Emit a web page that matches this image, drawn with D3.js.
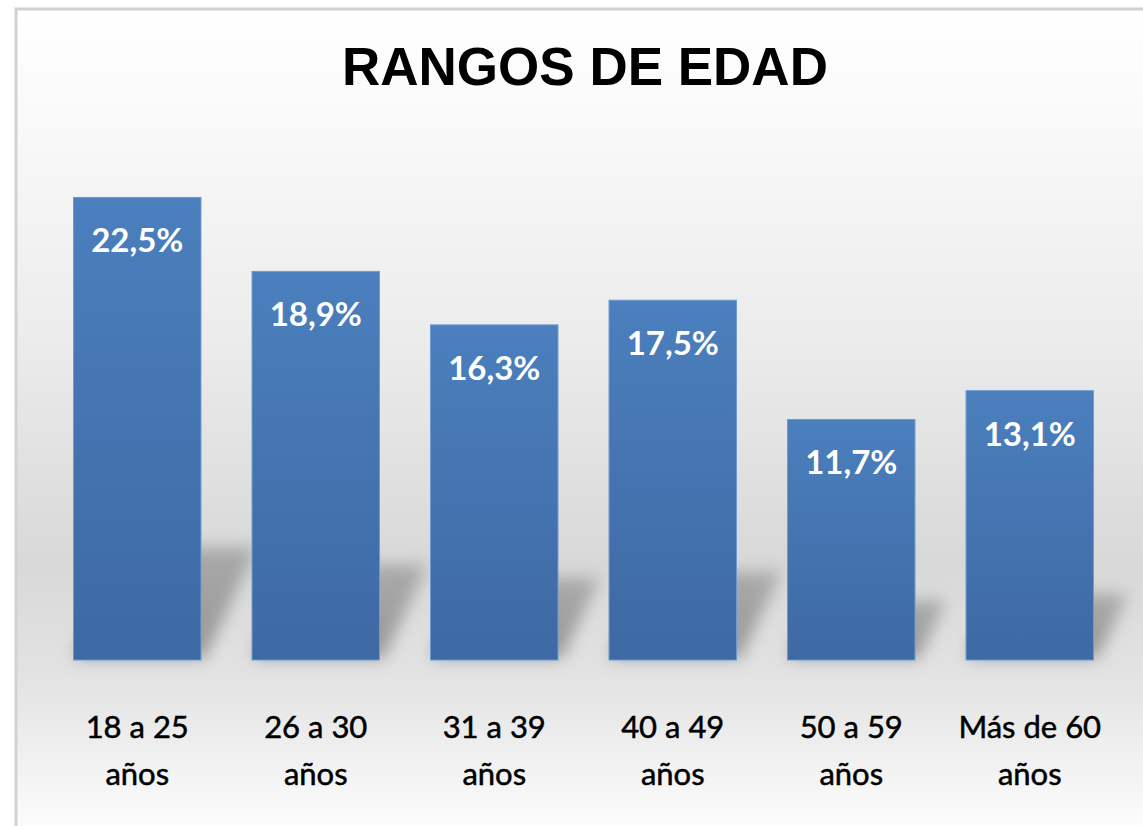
<!DOCTYPE html>
<html>
<head>
<meta charset="utf-8">
<script src="https://cdn.jsdelivr.net/npm/d3@7"></script>
<style>
  html, body { margin: 0; padding: 0; background: #fff; }
  svg { display: block; }
</style>
</head>
<body>
<svg id="chart" width="1143" height="826"></svg>
<script>
// data
const categories = ['18 a 25 años', '26 a 30 años', '31 a 39 años', '40 a 49 años', '50 a 59 años', 'Más de 60 años'];
const values = [22.5, 18.9, 16.3, 17.5, 11.7, 13.1];
const title = 'RANGOS DE EDAD';

const data = categories.map((c, i) => ({ cat: c, value: values[i] }));

const svg = d3.select('#chart');
const W = +svg.attr('width');
const H = +svg.attr('height');
const defs = svg.append('defs');

// background gradient of the chart area
const bg = defs.append('linearGradient').attr('id', 'bg')
  .attr('x1', 0).attr('y1', 0).attr('x2', 0).attr('y2', 1);
[[0, '#ffffff'], [0.12, '#fafafa'], [0.4, '#ececec'], [0.68, '#d8d8d8'], [0.82, '#e3e3e3'], [1, '#fcfcfc']]
  .forEach(([o, c]) => bg.append('stop').attr('offset', o).attr('stop-color', c));

const barGrad = defs.append('linearGradient').attr('id', 'bar')
  .attr('x1', 0).attr('y1', 0).attr('x2', 0).attr('y2', 1);
barGrad.append('stop').attr('offset', 0).attr('stop-color', '#4b7fbd');
barGrad.append('stop').attr('offset', 1).attr('stop-color', '#3d69a4');

const shadowGrad = defs.append('linearGradient').attr('id', 'shadow')
  .attr('x1', 0).attr('y1', 0).attr('x2', 0).attr('y2', 1);
shadowGrad.append('stop').attr('offset', 0).attr('stop-color', '#8a8a8a').attr('stop-opacity', 0.6);
shadowGrad.append('stop').attr('offset', 1).attr('stop-color', '#8a8a8a').attr('stop-opacity', 0.85);

defs.append('filter').attr('id', 'blur')
  .attr('x', '-30%').attr('y', '-30%').attr('width', '160%').attr('height', '160%')
  .append('feGaussianBlur').attr('stdDeviation', 8);

// frame
svg.append('rect')
  .attr('x', 16).attr('y', 9).attr('width', W - 16).attr('height', H - 9)
  .attr('fill', 'url(#bg)');
svg.append('path')
  .attr('d', `M16,${H} L16,9 L${W},9`)
  .attr('fill', 'none').attr('stroke', '#d2d2d2').attr('stroke-width', 3);

const x = d3.scaleBand()
  .domain(categories)
  .range([48, 1119])
  .paddingInner(0.286)
  .paddingOuter(0.143);

const y = d3.scaleLinear().domain([0, 25]).range([660, 146]);

// perspective shadows behind each bar
const skew = 0.47;
const squash = 0.24;
svg.append('g').attr('filter', 'url(#blur)')
  .selectAll('path')
  .data(data)
  .join('path')
  .attr('fill', 'url(#shadow)')
  .attr('d', d => {
    const x0 = x(d.cat);
    const x1 = x0 + x.bandwidth() + 4;
    const sh = (y(0) - y(d.value)) * squash;
    const b = y(0) - 2;
    return `M${x0},${b} L${x1},${b} L${x1 + skew * sh},${b - sh} L${x0 + skew * sh},${b - sh} Z`;
  });

// bars
svg.append('g')
  .selectAll('rect')
  .data(data)
  .join('rect')
  .attr('x', d => x(d.cat))
  .attr('y', d => y(d.value))
  .attr('width', x.bandwidth())
  .attr('height', d => y(0) - y(d.value))
  .attr('fill', 'url(#bar)')
  .attr('stroke', '#6e9bd2')
  .attr('stroke-width', 1);

// value labels
const esFormat = d3.formatLocale({ decimal: ',', thousands: '.', grouping: [3], currency: ['', '€'] }).format('.1f');
svg.append('g')
  .selectAll('text')
  .data(data)
  .join('text')
  .attr('x', d => x(d.cat) + x.bandwidth() / 2)
  .attr('y', d => y(d.value) + 55)
  .attr('text-anchor', 'middle')
  .attr('font-family', 'Lato, "Open Sans", sans-serif')
  .attr('font-weight', 700)
  .attr('font-size', 33)
  .attr('fill', '#ffffff')
  .text(d => esFormat(d.value) + '%');

// category labels, two lines each
const cats = svg.append('g')
  .selectAll('text')
  .data(categories)
  .join('text')
  .attr('text-anchor', 'middle')
  .attr('font-family', 'Lato, "Open Sans", sans-serif')
  .attr('font-size', 31)
  .attr('fill', '#000000')
  .attr('stroke', '#000000')
  .attr('stroke-width', 0.5);
cats.each(function (c) {
  const cut = c.lastIndexOf(' ');
  const lines = [c.slice(0, cut), c.slice(cut + 1)];
  const cx = x(c) + x.bandwidth() / 2;
  d3.select(this).selectAll('tspan')
    .data(lines)
    .join('tspan')
    .attr('x', cx)
    .attr('y', (d, i) => 738 + i * 47)
    .text(d => d);
});

// title
svg.append('text')
  .attr('x', 585)
  .attr('y', 85)
  .attr('text-anchor', 'middle')
  .attr('font-family', '"Liberation Sans", Arial, sans-serif')
  .attr('font-weight', 700)
  .attr('font-size', 53)
  .attr('fill', '#000000')
  .text(title);
</script>
</body>
</html>
